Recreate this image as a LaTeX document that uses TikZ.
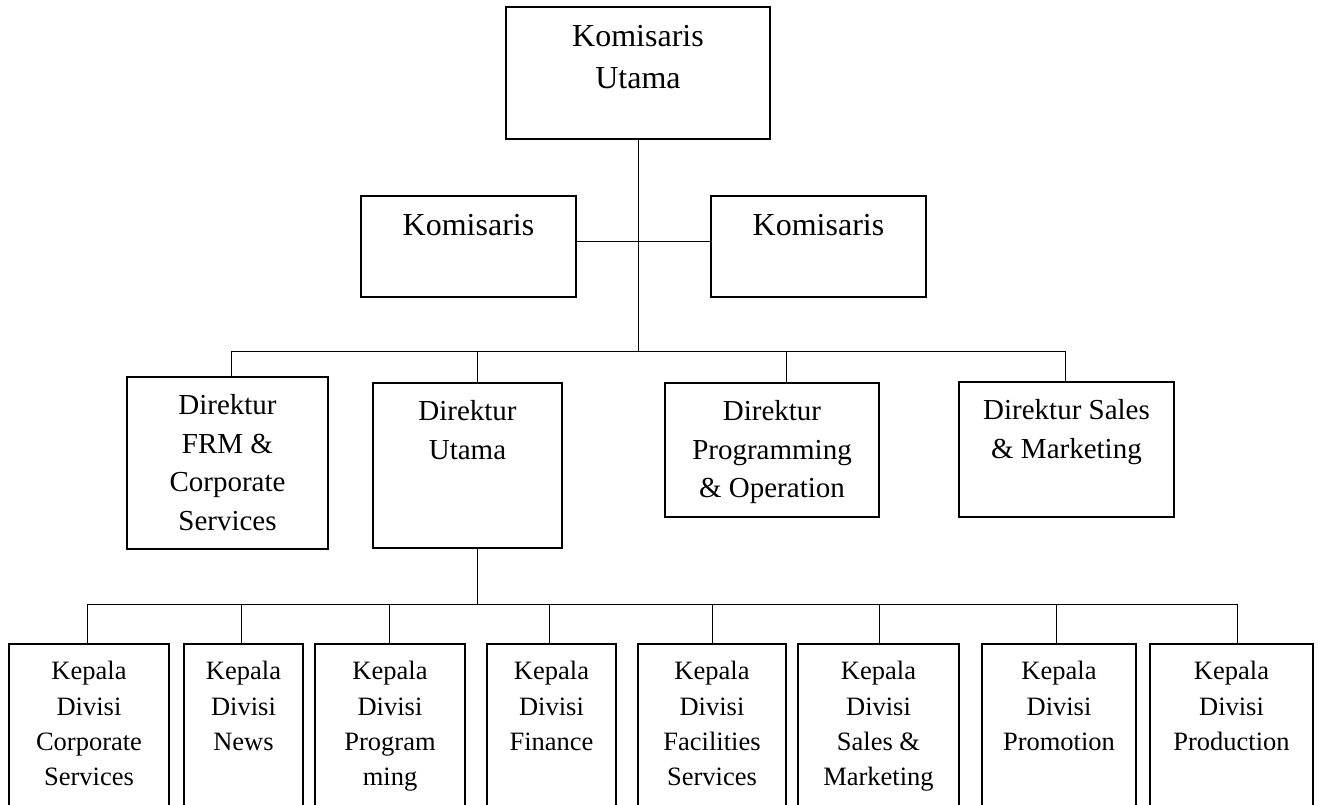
\documentclass[tikz,border=0pt]{standalone}
\usepackage{fontspec}
\setmainfont{Liberation Serif}

\begin{document}
\begin{tikzpicture}[x=1pt, y=-1pt,
  kotak/.style={draw, line width=1.3pt, inner sep=0pt},
  garis/.style={line width=1pt},
  teks/.style={anchor=north, align=center, inner sep=0pt},
  besar/.style={font=\fontsize{32}{42}\selectfont, yshift=-19pt},
  sedang/.style={font=\fontsize{29}{38.5}\selectfont, yshift=-18pt},
  kecil/.style={font=\fontsize{26.5}{35.3}\selectfont, yshift=-18pt}]
\useasboundingbox (0,0) rectangle (1319,805);

% komisaris
\node[kotak, minimum width=264pt, minimum height=132pt, label={[teks,besar]north:{Komisaris\\Utama}}] (kutama) at (638,73) {};
\node[kotak, minimum width=215pt, minimum height=101pt, label={[teks,besar]north:{Komisaris}}] (kom1) at (468.5,246.5) {};
\node[kotak, minimum width=215pt, minimum height=101pt, label={[teks,besar]north:{Komisaris}}] (kom2) at (818.5,246.5) {};

% direktur
\node[kotak, minimum width=201pt, minimum height=172pt, label={[teks,sedang]north:{Direktur\\FRM \&\\Corporate\\Services}}] (frm) at (227.5,463) {};
\node[kotak, minimum width=189pt, minimum height=165pt, label={[teks,sedang]north:{Direktur\\Utama}}] (utama) at (467.5,465.5) {};
\node[kotak, minimum width=214pt, minimum height=134pt, label={[teks,sedang]north:{Direktur\\Programming\\\& Operation}}] (prog) at (772,450) {};
\node[kotak, minimum width=215pt, minimum height=135pt, label={[teks,sedang]north:{Direktur Sales\\\& Marketing}}] (sales) at (1066.5,449.5) {};

% kepala divisi
\foreach \nama/\cx/\lebar/\isi in {
  kd1/89/160/{Kepala\\Divisi\\Corporate\\Services},
  kd2/243.5/119/{Kepala\\Divisi\\News},
  kd3/390/150/{Kepala\\Divisi\\Program\\ming},
  kd4/551.5/129/{Kepala\\Divisi\\Finance},
  kd5/712/148/{Kepala\\Divisi\\Facilities\\Services},
  kd6/878.5/161/{Kepala\\Divisi\\Sales \&\\Marketing},
  kd7/1059/154/{Kepala\\Divisi\\Promotion},
  kd8/1231.5/163/{Kepala\\Divisi\\Production}}
  \node[kotak, minimum width=\lebar pt, minimum height=186pt, label={[teks,kecil]north:{\isi}}] (\nama) at (\cx,737) {};

% garis
\coordinate (bus1) at (638,351);
\coordinate (bus2) at (477,604);
\draw[garis] (kutama.south) -- (bus1);
\draw[garis] ([yshift=5.5pt]kom1.east) -- ([yshift=5.5pt]kom2.west);
\draw[garis] ([xshift=3.5pt]frm.north |- bus1) -- ([xshift=-1.5pt]sales.north |- bus1);
\foreach \nama/\dx in {frm/3.5, utama/9.5, prog/14, sales/-1.5}
  \draw[garis] ([xshift=\dx pt]\nama.north) -- ([xshift=\dx pt]\nama.north |- bus1);
\draw[garis] ([xshift=9.5pt]utama.south) -- (bus2);
\draw[garis] ([xshift=-2pt]kd1.north |- bus2) -- ([xshift=5.5pt]kd8.north |- bus2);
\foreach \nama/\dx in {kd1/-2, kd2/-2.5, kd3/-1, kd4/-2.5, kd5/0, kd6/0.5, kd7/-3, kd8/5.5}
  \draw[garis] ([xshift=\dx pt]\nama.north) -- ([xshift=\dx pt]\nama.north |- bus2);
\end{tikzpicture}
\end{document}
